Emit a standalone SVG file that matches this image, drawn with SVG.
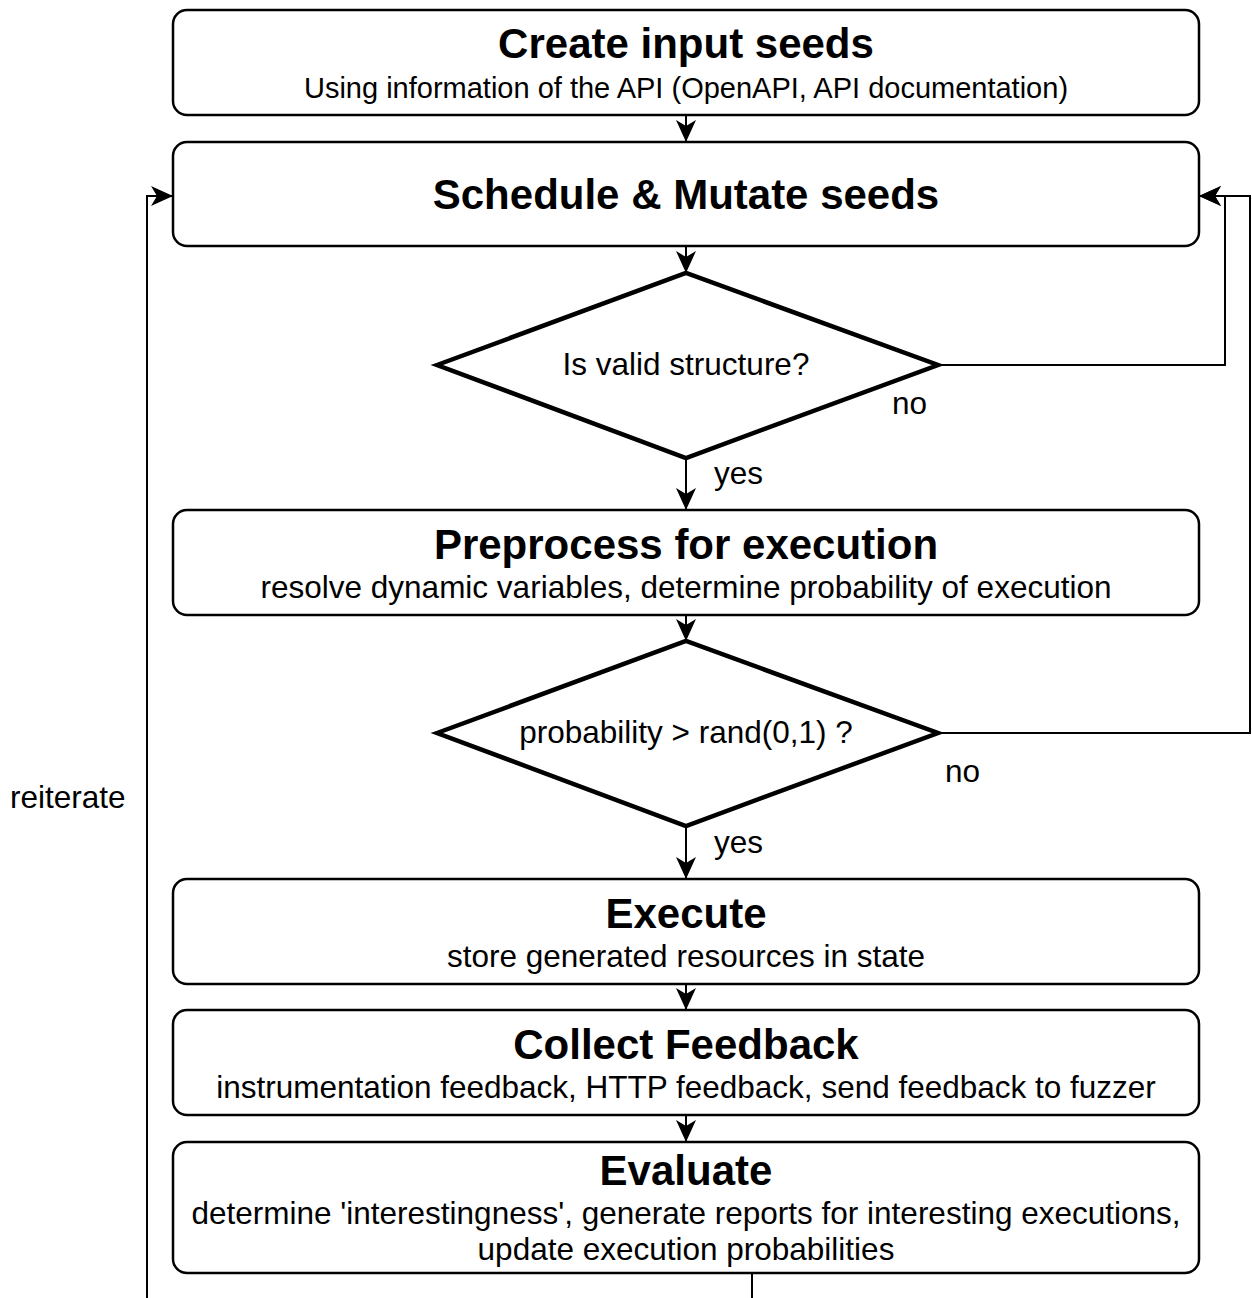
<svg xmlns="http://www.w3.org/2000/svg" width="1252" height="1298" viewBox="0 0 1252 1298">
  <style>
    .box { fill: #ffffff; stroke: #000000; stroke-width: 2.5; }
    .dec { fill: #ffffff; stroke: #000000; stroke-width: 4.5; stroke-linejoin: miter; }
    .edge { fill: none; stroke: #000000; stroke-width: 2; }
    text { font-family: "Liberation Sans", Arial, sans-serif; fill: #000000; text-anchor: middle; }
    .title { font-size: 42px; font-weight: bold; }
    .sub { font-size: 31.5px; }
    .sub-first { font-size: 29px; }
    .lbl { font-size: 31.5px; text-anchor: start; }
  </style>
  <defs>
    <marker id="arrow" markerUnits="userSpaceOnUse" markerWidth="24" markerHeight="24" viewBox="0 0 24 24" refX="23" refY="12" orient="auto">
      <path d="M1,2 L23,12 L1,22 L7,12 Z" fill="#000000"/>
    </marker>
  </defs>
  <rect width="1252" height="1298" fill="#ffffff"/>

  <g id="connectors">
    <path class="edge" d="M686,115 L686,142" marker-end="url(#arrow)"/>
    <path class="edge" d="M686,246 L686,273" marker-end="url(#arrow)"/>
    <path class="edge" d="M686,458 L686,510" marker-end="url(#arrow)"/>
    <path class="edge" d="M686,615 L686,641" marker-end="url(#arrow)"/>
    <path class="edge" d="M686,826 L686,879" marker-end="url(#arrow)"/>
    <path class="edge" d="M686,984 L686,1010" marker-end="url(#arrow)"/>
    <path class="edge" d="M686,1115 L686,1142" marker-end="url(#arrow)"/>
    <path class="edge" d="M938,365 L1225,365 L1225,196 L1199,196" marker-end="url(#arrow)"/>
    <path class="edge" d="M938,733 L1250,733 L1250,196 L1199,196" marker-end="url(#arrow)"/>
    <path class="edge" d="M752,1273 L752,1310 L147,1310 L147,196 L173,196" marker-end="url(#arrow)"/>
    <text class="lbl" x="892" y="414">no</text>
    <text class="lbl" x="714" y="484">yes</text>
    <text class="lbl" x="945" y="782">no</text>
    <text class="lbl" x="714" y="853">yes</text>
    <text class="lbl" x="10" y="808">reiterate</text>
  </g>

  <g id="create-seeds">
    <rect class="box" x="173" y="10" width="1026" height="105" rx="14"/>
    <text class="title" x="686" y="58">Create input seeds</text>
    <text class="sub-first" x="686" y="98">Using information of the API (OpenAPI, API documentation)</text>
  </g>

  <g id="schedule-mutate">
    <rect class="box" x="173" y="142" width="1026" height="104" rx="14"/>
    <text class="title" x="686" y="209">Schedule &amp; Mutate seeds</text>
  </g>

  <g id="valid-structure">
    <polygon class="dec" points="437,365 686,273 938,365 686,458"/>
    <text class="sub" x="686" y="375">Is valid structure?</text>
  </g>

  <g id="preprocess">
    <rect class="box" x="173" y="510" width="1026" height="105" rx="14"/>
    <text class="title" x="686" y="559">Preprocess for execution</text>
    <text class="sub" x="686" y="598">resolve dynamic variables, determine probability of execution</text>
  </g>

  <g id="probability-check">
    <polygon class="dec" points="437,733 686,641 938,733 686,826"/>
    <text class="sub" x="686" y="743">probability &gt; rand(0,1) ?</text>
  </g>

  <g id="execute">
    <rect class="box" x="173" y="879" width="1026" height="105" rx="14"/>
    <text class="title" x="686" y="928">Execute</text>
    <text class="sub" x="686" y="967">store generated resources in state</text>
  </g>

  <g id="collect-feedback">
    <rect class="box" x="173" y="1010" width="1026" height="105" rx="14"/>
    <text class="title" x="686" y="1059">Collect Feedback</text>
    <text class="sub" x="686" y="1098">instrumentation feedback, HTTP feedback, send feedback to fuzzer</text>
  </g>

  <g id="evaluate">
    <rect class="box" x="173" y="1142" width="1026" height="131" rx="14"/>
    <text class="title" x="686" y="1185">Evaluate</text>
    <text class="sub" x="686" y="1224">determine 'interestingness', generate reports for interesting executions,</text>
    <text class="sub" x="686" y="1260">update execution probabilities</text>
  </g>
</svg>
